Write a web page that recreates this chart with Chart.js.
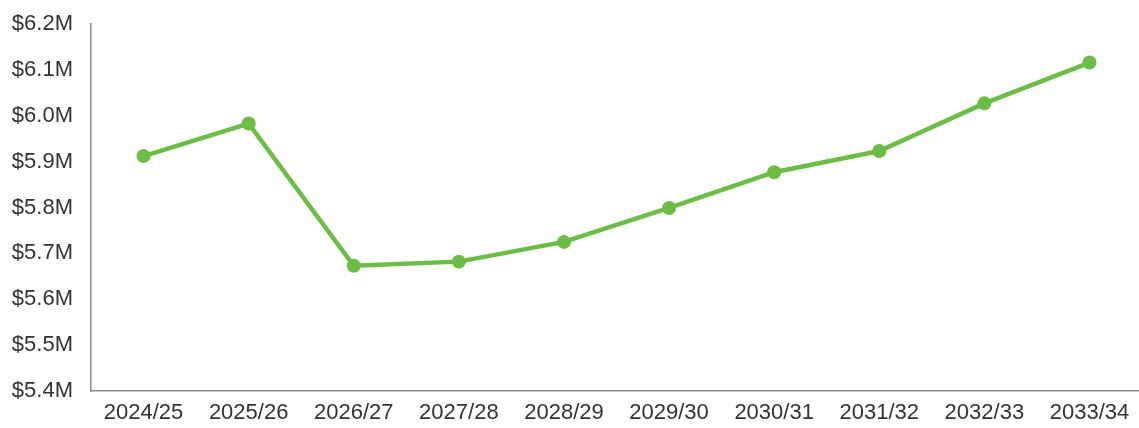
<!DOCTYPE html>
<html>
<head>
<meta charset="utf-8">
<script src="https://cdn.jsdelivr.net/npm/chart.js@4"></script>
<style>
  html, body { margin: 0; padding: 0; background: #fff; overflow: hidden; }
  #wrap { width: 1139px; height: 428px; overflow: hidden; }
</style>
</head>
<body>
<div id="wrap"><canvas id="chart" width="1149" height="428"></canvas></div>
<script>
// data
const years = ["2024/25", "2025/26", "2026/27", "2027/28", "2028/29",
  "2029/30", "2030/31", "2031/32", "2032/33", "2033/34"];
const costs = [5.912, 5.983, 5.673, 5.682, 5.725, 5.799, 5.877, 5.923, 6.027, 6.116];
const yTicks = [5.4, 5.5, 5.6, 5.7, 5.8, 5.9, 6.0, 6.1, 6.2];

const green = "#6cbd45";
const textColor = "#333";
const font = { family: "'Liberation Sans', Arial, sans-serif", size: 22 };

const ctx = document.querySelector("#chart").getContext("2d");

new Chart(ctx, {
  type: "line",
  data: {
    labels: years,
    datasets: [
      {
        data: costs,
        borderColor: green,
        backgroundColor: green,
        borderWidth: 4.5,
        pointRadius: 7,
        pointBackgroundColor: green,
        pointBorderWidth: 0,
        tension: 0,
      },
    ],
  },
  options: {
    responsive: false,
    animation: false,
    layout: { padding: { top: 24, right: 0, left: 0, bottom: 0 } },
    plugins: { legend: { display: false }, tooltip: { enabled: false } },
    scales: {
      x: {
        offset: true,
        grid: { display: false, drawTicks: false },
        border: { display: true, color: "#8a8a8a", width: 1.5 },
        ticks: { color: textColor, font: font, padding: 9, maxRotation: 0, autoSkip: false },
        afterFit: (s) => { s.height = 37; },
      },
      y: {
        min: 5.4,
        max: 6.2,
        grid: { display: false, drawTicks: false },
        border: { display: true, color: "#8a8a8a", width: 1.5 },
        afterBuildTicks: (s) => { s.ticks = yTicks.map((v) => ({ value: v })); },
        ticks: {
          color: textColor,
          font: font,
          padding: 18,
          callback: (v) => "$" + v.toFixed(1) + "M",
        },
        afterFit: (s) => {
          s.width = 91;
          s.paddingTop = 0;
          s.paddingBottom = 0;
        },
      },
    },
  },
});
</script>
</body>
</html>
